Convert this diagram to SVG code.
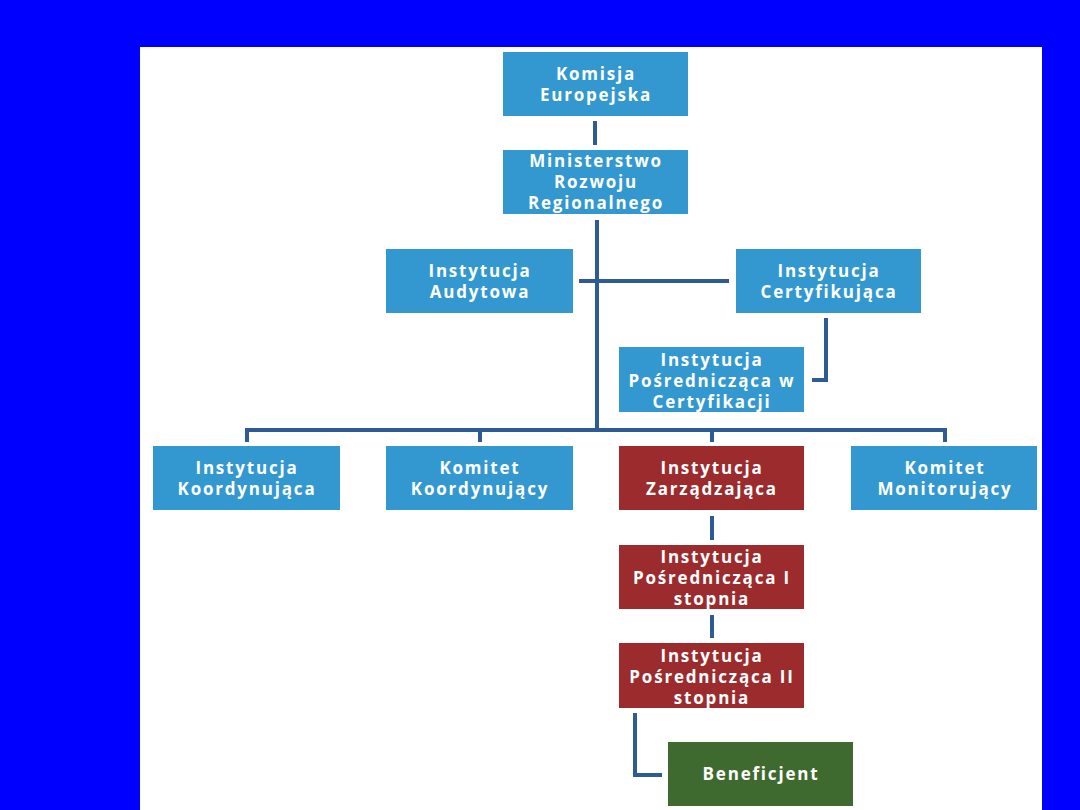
<svg xmlns="http://www.w3.org/2000/svg" width="1080" height="810" viewBox="0 0 1080 810">
<style>
.b{fill:#3298cf}
.r{fill:#9b2b2d}
.g{fill:#3f6a2f}
.t{fill:#ffffff;font-family:"Open Sans","DejaVu Sans",sans-serif;font-weight:bold;font-size:17px;letter-spacing:1.8px;text-anchor:middle}
.c{stroke:#2e5b96;stroke-width:4;fill:none}
</style>
<rect x="0" y="0" width="1080" height="810" fill="#0000ff"/>
<rect x="140" y="47" width="902" height="763" fill="#ffffff"/>
<g id="connectors">
<line class="c" x1="595" y1="121" x2="595" y2="145"/>
<line class="c" x1="597" y1="220" x2="597" y2="430"/>
<line class="c" x1="579" y1="281" x2="729" y2="281"/>
<polyline class="c" points="826,318 826,380 812,380"/>
<polyline class="c" points="247,442 247,430 945,430 945,442"/>
<line class="c" x1="480" y1="430" x2="480" y2="442"/>
<line class="c" x1="712" y1="430" x2="712" y2="442"/>
<line class="c" x1="712" y1="516" x2="712" y2="540"/>
<line class="c" x1="712" y1="615" x2="712" y2="638"/>
<polyline class="c" points="635,713 635,775 662,775"/>
</g>
<g id="komisja"><rect class="b" x="503" y="52" width="185" height="64"/><text class="t" x="596" y="80">Komisja</text><text class="t" x="596" y="101">Europejska</text></g>
<g id="ministerstwo"><rect class="b" x="503" y="150" width="185" height="64"/><text class="t" x="596" y="167">Ministerstwo</text><text class="t" x="596" y="188">Rozwoju</text><text class="t" x="596" y="209">Regionalnego</text></g>
<g id="audytowa"><rect class="b" x="386" y="249" width="187" height="64"/><text class="t" x="480" y="277">Instytucja</text><text class="t" x="480" y="298">Audytowa</text></g>
<g id="certyfikujaca"><rect class="b" x="736" y="249" width="185" height="64"/><text class="t" x="829" y="277">Instytucja</text><text class="t" x="829" y="298">Certyfikująca</text></g>
<g id="posr-cert"><rect class="b" x="619" y="347" width="185" height="65"/><text class="t" x="712" y="366">Instytucja</text><text class="t" x="712" y="387">Pośrednicząca w</text><text class="t" x="712" y="408">Certyfikacji</text></g>
<g id="koordynujaca"><rect class="b" x="153" y="446" width="187" height="64"/><text class="t" x="247" y="474">Instytucja</text><text class="t" x="247" y="495">Koordynująca</text></g>
<g id="komitet-koord"><rect class="b" x="386" y="446" width="187" height="64"/><text class="t" x="480" y="474">Komitet</text><text class="t" x="480" y="495">Koordynujący</text></g>
<g id="zarzadzajaca"><rect class="r" x="619" y="446" width="185" height="64"/><text class="t" x="712" y="474">Instytucja</text><text class="t" x="712" y="495">Zarządzająca</text></g>
<g id="monitorujacy"><rect class="b" x="851" y="446" width="186" height="64"/><text class="t" x="945" y="474">Komitet</text><text class="t" x="945" y="495">Monitorujący</text></g>
<g id="posr1"><rect class="r" x="619" y="545" width="185" height="64"/><text class="t" x="712" y="563">Instytucja</text><text class="t" x="712" y="584">Pośrednicząca I</text><text class="t" x="712" y="605">stopnia</text></g>
<g id="posr2"><rect class="r" x="619" y="643" width="185" height="65"/><text class="t" x="712" y="662">Instytucja</text><text class="t" x="712" y="683">Pośrednicząca II</text><text class="t" x="712" y="704">stopnia</text></g>
<g id="beneficjent"><rect class="g" x="668" y="742" width="185" height="64"/><text class="t" x="761" y="780">Beneficjent</text></g>
</svg>
